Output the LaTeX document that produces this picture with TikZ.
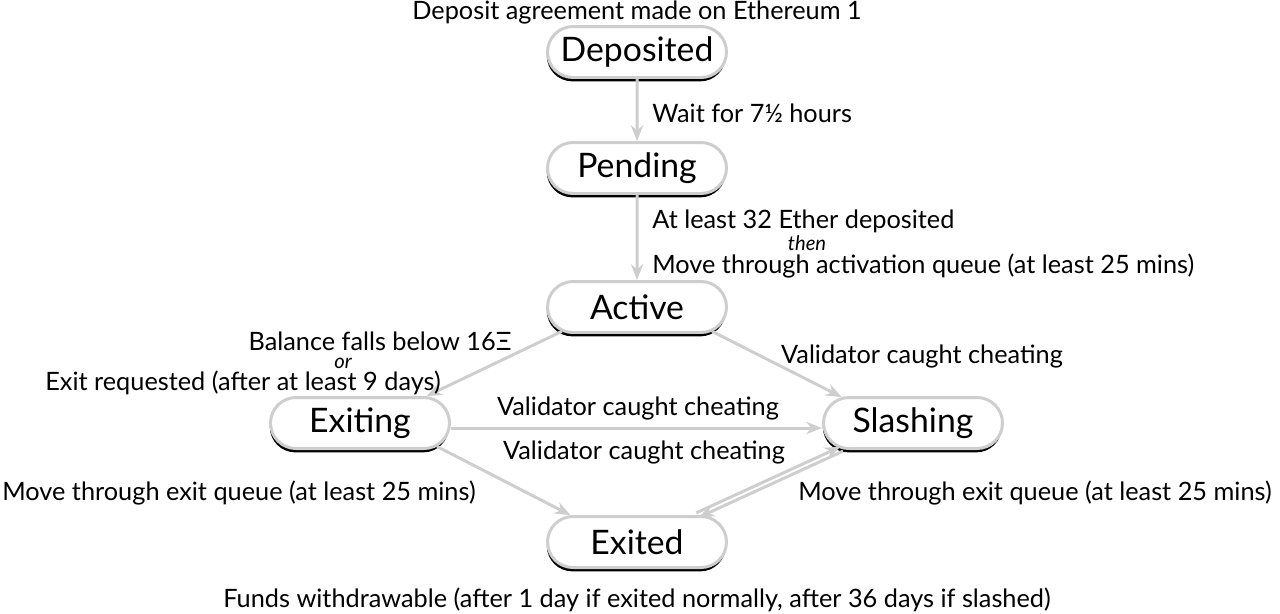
\documentclass[tikz,border=0pt]{standalone}
\usepackage{fontspec}
\setmainfont{Lato}
\usetikzlibrary{shapes.misc,shadows,arrows.meta}
\definecolor{linegrey}{RGB}{206,206,206}
\tikzset{
  state/.style={rounded rectangle, draw=linegrey, line width=1.7pt, fill=white,
    minimum width=3.58cm, minimum height=1.02cm, inner sep=0pt,
    font=\fontsize{19.2}{21}\selectfont,
    drop shadow={fill=black, opacity=1, shadow xshift=-0.4pt, shadow yshift=-2.2pt}},
  lbl/.style={font=\fontsize{14.4}{16}\selectfont, inner sep=0pt},
  small/.style={font=\fontsize{11.5}{13}\selectfont\itshape, inner sep=0pt},
  trans/.style={draw=linegrey, line width=1.7pt, -{Stealth[length=9pt,width=7pt,inset=3pt]}}
}
\begin{document}
\begin{tikzpicture}[x=0.02cm,y=-0.02cm]
  \useasboundingbox (0,0) rectangle (1280,613);
  % states
  \node[state] (deposited) at (637,52) {Deposited};
  \node[state] (pending) at (637,168) {Pending};
  \node[state] (active) at (637,307) {Active};
  \node[state] (exiting) at (360,423) {Exiting};
  \node[state] (slashing) at (913,423) {Slashing};
  \node[state] (exited) at (637,542) {Exited};
  % transitions
  \draw[trans] (deposited) -- (pending);
  \draw[trans] (pending) -- (active);
  \draw[trans] (active.198) -- (exiting.22);
  \draw[trans] (active.342) -- (slashing.160);
  \draw[trans] ([yshift=-0.1cm]exiting.east) -- ([yshift=-0.1cm]slashing.west);
  \draw[trans] (exiting.343) -- (exited.158);
  \draw[trans] ([shift={(-1.3,-2.2)}]exited.24) -- ([shift={(-1.3,-2.2)}]slashing.200);
  \draw[trans] ([shift={(1.3,2.2)}]slashing.200) -- ([shift={(1.3,2.2)}]exited.24);
  % labels
  \node[lbl] (agreement) at (637,12) {Deposit agreement made on Ethereum 1};
  \node[lbl, anchor=west] (wait) at (652,113) {Wait for 7½ hours};
  \node[lbl, anchor=west] (ether) at (652,221) {At least 32 Ether deposited};
  \node[small] (then) at (807,243) {then};
  \node[lbl, anchor=west] (queue) at (652,266) {Move through activation queue (at least 25 mins)};
  \node[lbl] (balance) at (380,341) {Balance falls below 16Ξ};
  \node[small] (or) at (343,363) {or};
  \node[lbl] (request) at (243,383) {Exit requested (after at least 9 days)};
  \node[lbl] (cheat) at (922,356) {Validator caught cheating};
  \node[lbl] (cheatupper) at (638,408) {Validator caught cheating};
  \node[lbl] (cheatlower) at (644,452) {Validator caught cheating};
  \node[lbl] (exitleft) at (239,493) {Move through exit queue (at least 25 mins)};
  \node[lbl] (exitright) at (1035,493) {Move through exit queue (at least 25 mins)};
  \node[lbl] (funds) at (637,600) {Funds withdrawable (after 1 day if exited normally, after 36 days if slashed)};
\end{tikzpicture}
\end{document}
